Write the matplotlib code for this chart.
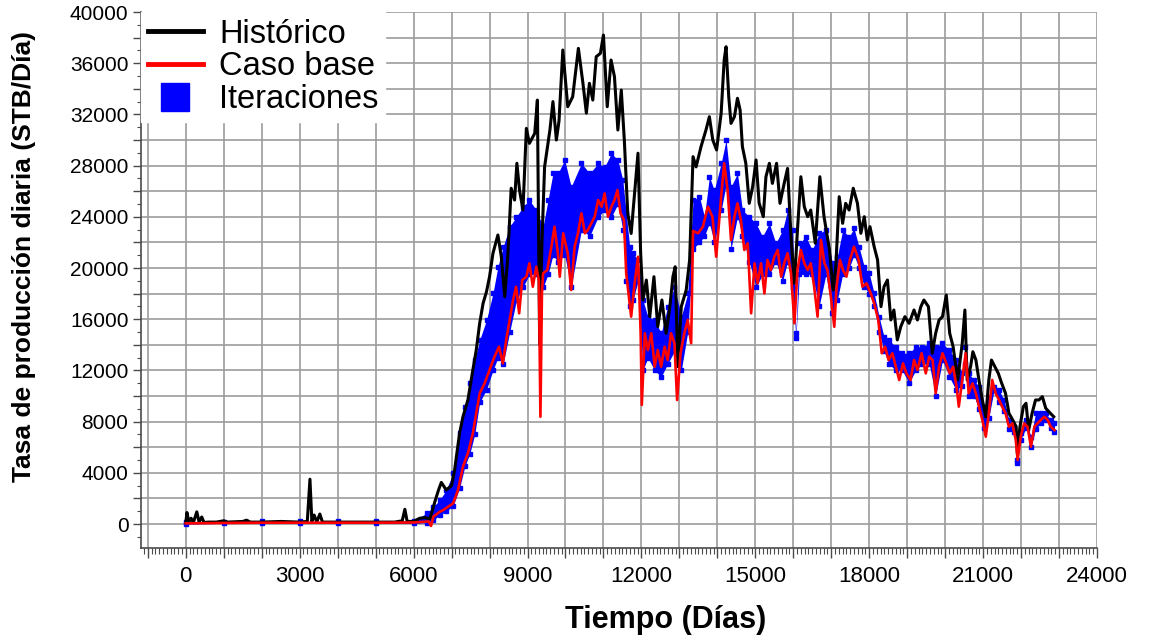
import matplotlib
matplotlib.use("Agg")
import matplotlib.pyplot as plt
from matplotlib.lines import Line2D
from matplotlib.ticker import MultipleLocator, FuncFormatter

plt.rcParams['font.family'] = ['Liberation Sans', 'DejaVu Sans']

# Histórico (días, STB/día)
hist_dias = [0, 30, 80, 140, 200, 290, 350, 420, 480, 600, 800, 1000, 1100, 1500, 1600, 1700,
             2000, 2500, 3000, 3200, 3270, 3320, 3380, 3450, 3530, 3600, 4000, 4500, 5000, 5500,
             5700, 5770, 5830, 6000, 6160, 6300, 6430, 6560, 6650, 6730, 6860, 7000, 7080, 7210,
             7300, 7430, 7560, 7650, 7740, 7830, 7920, 8000, 8090, 8220, 8310, 8400, 8480, 8570,
             8660, 8720, 8790, 8880, 8970, 9050, 9190, 9260, 9320, 9380, 9450, 9590, 9670, 9760,
             9830, 9930, 10060, 10190, 10340, 10460, 10550, 10630, 10720, 10810, 10920, 11000,
             11100, 11200, 11290, 11380, 11470, 11550, 11640, 11730, 11820, 11910, 11980, 12040,
             12130, 12220, 12330, 12430, 12540, 12650, 12740, 12830, 12890, 12960, 13050, 13180,
             13270, 13360, 13440, 13570, 13700, 13790, 13880, 13980, 14100, 14180, 14230, 14300,
             14360, 14450, 14530, 14600, 14660, 14750, 14840, 14930, 15020, 15100, 15210, 15280,
             15370, 15450, 15560, 15650, 15760, 15850, 15940, 16030, 16110, 16200, 16290, 16380,
             16460, 16580, 16700, 16810, 16950, 17050, 17120, 17210, 17300, 17380, 17470, 17580,
             17690, 17780, 17870, 17950, 18020, 18130, 18220, 18310, 18390, 18480, 18570, 18650,
             18740, 18830, 18940, 19050, 19180, 19270, 19360, 19440, 19560, 19660, 19750, 19840,
             19930, 20030, 20120, 20210, 20330, 20450, 20520, 20580, 20670, 20730, 20810, 20890,
             20980, 21070, 21150, 21220, 21310, 21400, 21490, 21590, 21680, 21780, 21870, 21900,
             21970, 22060, 22130, 22200, 22290, 22380, 22470, 22560, 22650, 22730, 22860]
hist_tasa = [100, 900, 150, 450, 120, 950, 150, 550, 120, 150, 150, 250, 150, 200, 300, 150,
             150, 200, 150, 200, 3500, 200, 700, 150, 780, 150, 150, 150, 150, 150,
             250, 1150, 200, 200, 450, 500, 400, 1740, 2600, 3250, 2660, 3000, 4220, 7080,
             8380, 9690, 12030, 13590, 15680, 17240, 18150, 19320, 21150, 22580, 20880, 17760, 20880, 26230,
             25310, 28180, 26090, 24530, 30910, 29740, 30520, 33120, 14000, 22000, 27900, 30780, 33000, 30000,
             31500, 37030, 32600, 33380, 37160, 34430, 32100, 34430, 33120, 36510, 36770, 38200,
             32600, 36250, 34950, 30780, 33900, 30000, 24270, 22700, 25830, 28970, 21150, 17500,
             19060, 16200, 19320, 15420, 17500, 14900, 16720, 19320, 20100, 12290, 16980, 18280,
             20630, 28700, 27900, 29480, 30780, 31820, 30000, 29220, 32090, 36250, 37290, 33380,
             31300, 31820, 33260, 32340, 29480, 28180, 25050, 26350, 28440, 25080, 24010, 27130,
             28180, 26610, 28180, 25050, 26610, 27780, 22450, 18800, 22970, 27130, 24790, 24010,
             24530, 21930, 27130, 24010, 21500, 18280, 20100, 25570, 23490, 25050, 24530, 26230,
             25050, 22710, 24010, 22190, 23230, 21670, 20630, 16980, 18540, 19060, 15940, 16720,
             14380, 15410, 16200, 15680, 16720, 15940, 16980, 17500, 16980, 13340, 14900, 15940,
             16200, 17890, 14900, 13850, 11250, 14120, 16720, 11250, 12290, 13460, 12810, 11250,
             9690, 8380, 11250, 12810, 12290, 11770, 10990, 10210, 8650, 8130, 7600, 5520,
             7600, 9170, 9430, 7340, 8650, 9690, 9690, 9950, 9040, 8780, 8380]

# Caso base
base_dias = [0, 1000, 2000, 3000, 4000, 5000, 6000, 6400, 6460, 6520, 6690, 6780, 6910, 7040,
             7170, 7300, 7430, 7560, 7650, 7740, 7870, 8000, 8130, 8250, 8350, 8440, 8530, 8620,
             8700, 8780, 8860, 8970, 9050, 9140, 9230, 9300, 9340, 9380, 9410, 9520, 9630, 9710,
             9800, 9850, 9940, 10060, 10150, 10240, 10330, 10420, 10510, 10590, 10680, 10770,
             10860, 10950, 11030, 11120, 11210, 11290, 11370, 11450, 11540, 11600, 11660, 11730,
             11820, 11910, 11980, 12010, 12090, 12170, 12260, 12350, 12430, 12520, 12610, 12690,
             12780, 12870, 12940, 13030, 13130, 13220, 13310, 13360, 13490, 13620, 13750, 13870,
             13970, 14100, 14180, 14270, 14360, 14450, 14530, 14620, 14710, 14800, 14890, 14980,
             15060, 15150, 15240, 15320, 15410, 15500, 15590, 15680, 15760, 15850, 15940, 16030,
             16110, 16200, 16290, 16380, 16460, 16550, 16640, 16730, 16820, 16900, 16990, 17080,
             17140, 17230, 17310, 17400, 17490, 17600, 17720, 17820, 17930, 18040, 18130, 18240,
             18330, 18420, 18510, 18610, 18700, 18790, 18890, 18980, 19090, 19180, 19270, 19380,
             19490, 19580, 19670, 19750, 19840, 19930, 20030, 20120, 20210, 20300, 20360, 20450,
             20540, 20620, 20720, 20810, 20890, 20980, 21070, 21150, 21240, 21330, 21420, 21500,
             21590, 21680, 21770, 21860, 21910, 21990, 22080, 22170, 22260, 22350, 22430, 22520,
             22610, 22700, 22780, 22880]
base_tasa = [50, 80, 100, 100, 100, 100, 120, 200, -150, 570, 960, 1090, 1350, 1610,
             2660, 4480, 5520, 7080, 8650, 10210, 10990, 12030, 13070, 13850, 12550, 14380, 15940, 17500,
             18540, 16460, 19060, 19320, 20370, 18540, 20100, 19000, 8380, 18000, 19580, 19840, 21670, 23230,
             21150, 19320, 22710, 21150, 18280, 21670, 22710, 24270, 22710, 22970, 23490, 24010,
             25310, 24790, 25830, 24010, 24790, 25310, 26090, 24270, 23750, 19580, 18020, 16200,
             18800, 20880, 14900, 9300, 14900, 13590, 14900, 12290, 13590, 12290, 13850, 12810,
             14900, 14120, 9690, 13340, 14900, 15940, 14120, 22900, 22710, 23230, 24790, 24010,
             20880, 25570, 28180, 26090, 22190, 24010, 25050, 23750, 21410, 21930, 16460, 20370,
             18800, 20370, 18020, 20630, 19840, 20880, 21410, 19320, 20370, 21150, 19580, 15680,
             19840, 21410, 20370, 19840, 20370, 18540, 16200, 22190, 20370, 19840, 17760, 15410,
             18540, 20630, 19840, 19320, 20630, 21670, 20630, 18540, 18800, 18020, 17240, 15940,
             13340, 13850, 12810, 13340, 12290, 11250, 12550, 11770, 11250, 12810, 12030, 13340,
             11770, 13070, 12810, 10210, 12290, 13340, 12550, 11770, 12290, 10730, 9170, 11250,
             13340, 10210, 10990, 10210, 9170, 8130, 6820, 8650, 11250, 10210, 9690, 9170,
             8650, 7600, 7860, 6560, 5000, 6820, 7860, 7600, 6040, 7600, 7860, 8130,
             8380, 8130, 7600, 7340]

# Iteraciones: rango (mínimo y máximo) de las corridas en cada fecha
iter_dias = [0, 1000, 2000, 3000, 4000, 5000, 6000, 6340, 6520, 6690, 6860, 7040, 7210, 7350,
             7480, 7610, 7740, 7920, 8090, 8220, 8360, 8530, 8710, 8880, 9050, 9230, 9410, 9540,
             9670, 9800, 9980, 10150, 10420, 10640, 10860, 11030, 11210, 11380, 11510, 11600,
             11690, 11780, 11910, 12040, 12170, 12350, 12520, 12690, 12870, 13050, 13220, 13360,
             13530, 13660, 13790, 13920, 14100, 14230, 14360, 14530, 14660, 14840, 15020, 15190,
             15370, 15540, 15720, 15850, 15980, 16070, 16160, 16330, 16500, 16680, 16860, 17030,
             17160, 17300, 17470, 17600, 17730, 17870, 18000, 18130, 18260, 18390, 18520, 18700,
             18870, 19050, 19220, 19400, 19580, 19750, 19930, 20110, 20280, 20450, 20520, 20620,
             20760, 20890, 21020, 21150, 21290, 21420, 21550, 21680, 21810, 21900, 21990, 22130,
             22260, 22380, 22520, 22650, 22780, 22880]
iter_max = [150, 180, 200, 200, 200, 220, 250, 840, 1350, 1880, 2660, 3960, 7080, 9170,
            10990, 12810, 14380, 15940, 18020, 20100, 21670, 23230, 24010, 24790, 25310, 24530, 23230, 25310,
            27390, 27390, 28440, 26350, 28180, 27390, 28180, 27900, 28960, 28440, 26870, 24270,
            21670, 21150, 20630, 17500, 16200, 15940, 14900, 16980, 18540, 16200, 18020, 25310,
            25570, 24010, 27130, 26090, 28180, 30000, 26350, 27390, 24530, 24010, 23490, 22450,
            23490, 21930, 22970, 24530, 22970, 14900, 21930, 22450, 21410, 22710, 22970, 20370,
            20880, 22970, 22450, 23100, 21670, 20100, 19580, 18020, 16200, 14630, 14380, 13850,
            13340, 13340, 13850, 13850, 14120, 13850, 14120, 13590, 12810, 11770, 13850, 11770,
            11250, 10730, 9170, 9950, 10730, 10470, 9690, 8130, 7600, 5000, 7080, 8130,
            6820, 8650, 8650, 8650, 8130, 7860]
iter_min = [0, 50, 50, 50, 50, 50, 50, 100, 300, 700, 1000, 1400, 2800, 4500,
            5500, 7000, 9500, 10500, 12000, 13000, 12500, 15000, 17500, 18500, 19500, 19500, 18500, 19500,
            21000, 20500, 21000, 18500, 23000, 22500, 24000, 24500, 24000, 25000, 23000, 19000,
            17000, 17500, 19000, 12000, 13000, 12000, 11500, 12500, 13500, 12000, 15000, 21500,
            22000, 22500, 23500, 22000, 24500, 26500, 21500, 24000, 22500, 20500, 18500, 19500,
            19500, 20500, 19000, 20500, 18500, 14500, 19500, 19500, 19500, 17000, 19500, 16500,
            17500, 19500, 20000, 21000, 20000, 18500, 18000, 17000, 15000, 13500, 12500, 12000,
            12000, 11000, 12000, 12500, 12500, 10000, 12800, 11500, 10500, 10800, 12500, 10000,
            10000, 9000, 7500, 8300, 10500, 9500, 8800, 7400, 7200, 4800, 6600, 7500,
            6000, 7400, 7900, 8100, 7500, 7200]

etiquetas = ["Histórico", "Caso base", "Iteraciones"]

fig = plt.figure(figsize=(11.51, 6.42), dpi=100)
ax = fig.add_axes([0.1225, 0.1464, 0.8306, 0.8349])

# banda de iteraciones (cuadritos azules)
ax.fill_between(iter_dias, iter_min, iter_max, color="#0000FF", lw=0, zorder=2)
ax.plot(iter_dias, iter_max, ls="none", marker="s", ms=3.5, color="#0000FF", zorder=2)
ax.plot(iter_dias, iter_min, ls="none", marker="s", ms=3.5, color="#0000FF", zorder=2)
ax.plot(hist_dias, hist_tasa, color="black", lw=2.2, zorder=3)
ax.plot(base_dias, base_tasa, color="#FF0000", lw=1.9, zorder=4)

ax.set_xlim(-1180, 24000)
ax.set_ylim(-1875, 40000)

ax.xaxis.set_major_locator(MultipleLocator(1000))
ax.xaxis.set_minor_locator(MultipleLocator(100))
ax.yaxis.set_major_locator(MultipleLocator(2000))
ax.yaxis.set_minor_locator(MultipleLocator(1000))
ax.xaxis.set_major_formatter(FuncFormatter(lambda v, p: f"{int(v)}" if v % 3000 == 0 else ""))
ax.yaxis.set_major_formatter(FuncFormatter(lambda v, p: f"{int(v)}" if v % 4000 == 0 and v >= 0 else ""))

ax.grid(which="major", color="#9c9c9c", lw=1.2)
ax.set_axisbelow(True)

for s in ["top", "right"]:
    ax.spines[s].set_visible(False)
for s in ["left", "bottom"]:
    ax.spines[s].set_color("#4a4a4a")
    ax.spines[s].set_linewidth(1.2)

ax.tick_params(axis="x", which="major", length=7, width=1, color="#4a4a4a", pad=6, labelsize=16)
ax.tick_params(axis="x", which="minor", length=4, width=0.8, color="#4a4a4a")
ax.tick_params(axis="y", which="major", length=6, width=1, color="#4a4a4a", pad=3, labelsize=15)
ax.tick_params(axis="y", which="minor", length=3, width=0.8, color="#4a4a4a")

manijas = [Line2D([], [], color="black", lw=3.5),
           Line2D([], [], color="#FF0000", lw=3.5),
           Line2D([], [], color="#0000FF", marker="s", ls="none", ms=20)]
leg = ax.legend(manijas, etiquetas, loc="upper left", bbox_to_anchor=(0, 1), borderaxespad=0,
                fontsize=23.5, frameon=True, fancybox=False, facecolor="white", edgecolor="white",
                framealpha=1, handlelength=1.7, handletextpad=0.5, labelspacing=0.06, borderpad=0.2)
leg.set_zorder(10)

fig.text(0.578, 0.034, "Tiempo (Días)", fontsize=22, fontweight="bold", ha="center", va="center")
fig.text(0.021, 0.601, "Tasa de producción diaria (STB/Día)", fontsize=19, fontweight="bold",
         rotation=90, ha="center", va="center")

fig.savefig("out.png", dpi=100)
